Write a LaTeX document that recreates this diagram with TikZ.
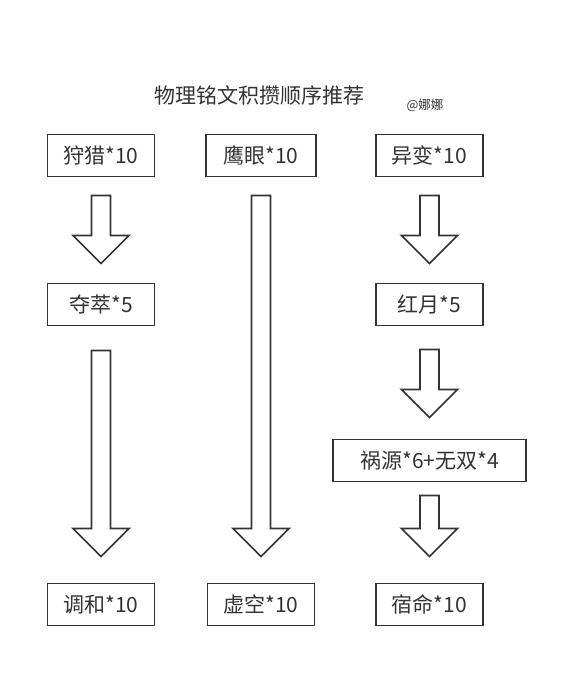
\documentclass[tikz,border=0pt]{standalone}
\usepackage{fontspec}
\newfontfamily\cjk{Noto Sans CJK SC}
\usetikzlibrary{positioning, calc}

\definecolor{inkgray}{HTML}{333333}

% hollow block arrow from one box down to the next (gap below / gap above)
\newcommand{\blockarrow}[4]{%
  \draw[hollow] let \p1=($(#1.south)+(0,#3)$), \p2=($(#2.north)+(0,-#4)$) in
    (\x1-9.5pt,\y1) -- (\x1+9.5pt,\y1) -- (\x1+9.5pt,\y2+28pt) -- (\x1+28pt,\y2+28pt)
    -- (\x1,\y2) -- (\x1-28pt,\y2+28pt) -- (\x1-9.5pt,\y2+28pt) -- cycle;}

\begin{document}
\begin{tikzpicture}[
    x=1pt, y=-1pt,
    box/.style={draw=inkgray, line width=1.8pt, minimum width=107pt, minimum height=42pt,
                inner sep=0pt, outer sep=0pt, text=inkgray, font=\cjk\fontsize{21}{25}\selectfont},
    hollow/.style={draw=inkgray, line width=1.7pt, fill=white, line join=miter},
    node distance=107pt
  ]
  \path[fill=white] (0,0) rectangle (588,687);

  % Title
  \node[text=inkgray, font=\cjk\fontsize{21}{25}\selectfont] (title) at (259,95) {物理铭文积攒顺序推荐};
  \node[text=inkgray, font=\cjk\fontsize{12.5}{15}\selectfont] (sign) at (425,105) {@娜娜};

  % Top row
  \node[box] (hunt) at (101,155.5) {狩猎*10};
  \node[box, minimum width=110pt] (hawk) at (261,155.5) {鹰眼*10};
  \node[box] (mutate) at (429.5,155.5) {异变*10};

  % Left column
  \node[box, below=107pt of hunt] (seize) {夺萃*5};
  \node[box, below=258pt of seize] (harmony) {调和*10};

  % Middle column
  \node[box, below=407pt of hawk] (void) {虚空*10};

  % Right column
  \node[box, below=107pt of mutate] (moon) {红月*5};
  \node[box, minimum width=193pt, below=114pt of moon] (doom) {祸源*6+无双*4};
  \node[box, below=102pt of doom] (fate) {宿命*10};

  % Arrows
  \blockarrow{hunt}{seize}{19}{20}
  \blockarrow{seize}{harmony}{25}{27}
  \blockarrow{hawk}{void}{19}{27}
  \blockarrow{mutate}{moon}{19}{20}
  \blockarrow{moon}{doom}{24}{22}
  \blockarrow{doom}{fate}{14}{27}
\end{tikzpicture}
\end{document}
